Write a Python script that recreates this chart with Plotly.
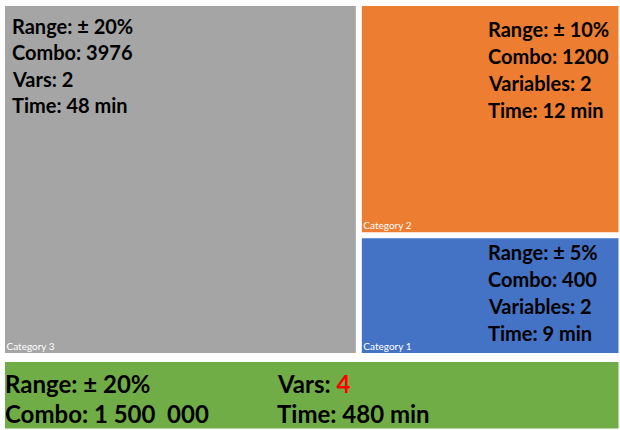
import plotly.graph_objects as go

# ---- data ----
categories = ["Category 3", "Category 2", "Category 1"]
values = [57.6, 27.9, 14.5]
colors = ["#A5A5A5", "#ED7D31", "#4472C4"]
range_txt = ["± 20%", "± 10%", "± 5%"]
combo_txt = ["3976", "1200", "400"]
var_names = ["Vars", "Variables", "Variables"]
var_counts = [2, 2, 2]
time_min = [48, 12, 9]

total_label = ["Total"]
total_value = [1]
total_color = ["#70AD47"]
total_range = "± 20%"
total_combo = "1 500\u00a0 000"
total_vars = 4
total_time = 480

W, H = 620, 430

def px(x):
    return x / W

def py(y):
    return 1 - y / H

fig = go.Figure()
fig.add_trace(go.Treemap(
    labels=categories,
    parents=[""] * len(categories),
    values=values,
    marker=dict(colors=colors, line=dict(color="white", width=3),
                pad=dict(t=0, l=0, r=0, b=0)),
    textinfo="label",
    textposition="bottom left",
    textfont=dict(family="Lato", size=10, color="white"),
    domain=dict(x=[px(3.5), 1], y=[py(354.5), py(4.5)]),
    pathbar=dict(visible=False),
    sort=True,
    hoverinfo="label",
))
fig.add_trace(go.Treemap(
    labels=total_label,
    parents=[""],
    values=total_value,
    marker=dict(colors=total_color, line=dict(color="white", width=3),
                pad=dict(t=0, l=0, r=0, b=0)),
    textinfo="none",
    domain=dict(x=[px(3.5), 1], y=[0, py(360.5)]),
    pathbar=dict(visible=False),
    hoverinfo="skip",
))

# text blocks for each tile: (x pixel, first line y pixel, line step)
block_pos = [(10, 26, 26.3), (486, 29, 27), (486, 252, 27)]
annotations = []
for i in range(len(categories)):
    lines = [f"Range: {range_txt[i]}", f"Combo: {combo_txt[i]}",
             f"{var_names[i]}: {var_counts[i]}", f"Time: {time_min[i]} min"]
    x0, y0, step = block_pos[i]
    for j, t in enumerate(lines):
        annotations.append(dict(
            x=px(x0), y=py(y0 + j * step), xref="paper", yref="paper",
            xanchor="left", yanchor="middle", showarrow=False, text=t,
            font=dict(family="Lato", size=20, color="black", weight=700)))

green_cols = [
    (3, [f"Range: {total_range}", f"Combo: {total_combo}"]),
    (275, [f"Vars: <span style='color:#FF0000'>{total_vars}</span>", f"Time: {total_time} min"]),
]
for x0, lines in green_cols:
    for j, t in enumerate(lines):
        annotations.append(dict(
            x=px(x0), y=py(383 + j * 30), xref="paper", yref="paper",
            xanchor="left", yanchor="middle", showarrow=False, text=t,
            font=dict(family="Lato", size=24, color="black", weight=700)))

fig.update_layout(
    width=W, height=H,
    margin=dict(l=0, r=0, t=0, b=0),
    paper_bgcolor="white",
    annotations=annotations,
    showlegend=False,
)
fig.write_html("out.html",
               config={"displayModeBar": False},
               post_script="document.body.style.margin='0';document.body.style.overflow='hidden';")
